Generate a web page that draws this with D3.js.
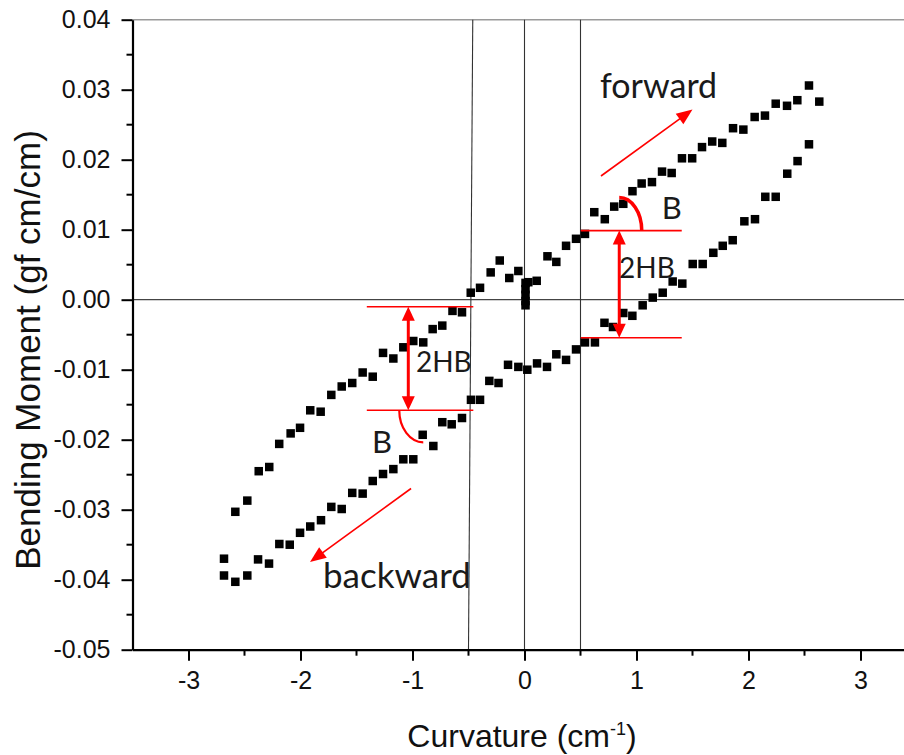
<!DOCTYPE html>
<html>
<head>
<meta charset="utf-8">
<script src="https://cdn.jsdelivr.net/npm/d3@7"></script>
<style>
  html, body { margin: 0; padding: 0; background: #fff; }
  svg { display: block; }
</style>
</head>
<body>
<svg id="chart" width="904" height="755"></svg>
<script>
// Hysteresis loop: bending moment vs curvature
// Upper branch of the loop (curvature, moment)
const upperCurv = [-2.582, -2.475, -2.373, -2.279, -2.190, -2.088, -2.004, -1.913, -1.820, -1.725,
  -1.632, -1.538, -1.445, -1.355, -1.263, -1.171, -1.082, -0.993, -0.904, -0.820,
  -0.734, -0.643, -0.558, -0.480, -0.397, -0.302, -0.221, -0.136, -0.055,
  0.009, 0.009, 0.009, 0.009, 0.009, 0.034, 0.109,
  0.205, 0.284, 0.371, 0.460, 0.540, 0.623, 0.717, 0.801, 0.882, 0.964,
  1.046, 1.138, 1.228, 1.314, 1.406, 1.497, 1.585, 1.676, 1.766, 1.862,
  1.954, 2.055, 2.147, 2.243, 2.344, 2.436, 2.540, 2.632];
const upperMoment = [-0.0303, -0.0287, -0.0245, -0.0239, -0.0206, -0.0191, -0.0183, -0.0158, -0.0160, -0.0136,
  -0.0124, -0.0119, -0.0104, -0.0110, -0.0076, -0.0084, -0.0068, -0.0059, -0.0061, -0.0042,
  -0.0037, -0.0016, -0.0018, 0.0010, 0.0017, 0.0039, 0.0056, 0.0031, 0.0041,
  0.0024, 0.0015, 0.0007, -0.0002, -0.0008, 0.0025, 0.0027,
  0.0062, 0.0054, 0.0077, 0.0087, 0.0094, 0.0125, 0.0115, 0.0133, 0.0137, 0.0155,
  0.0166, 0.0168, 0.0183, 0.0181, 0.0202, 0.0202, 0.0218, 0.0226, 0.0224, 0.0245,
  0.0243, 0.0261, 0.0263, 0.0280, 0.0277, 0.0285, 0.0306, 0.0283];

// Lower branch of the loop
const lowerCurv = [-2.683, -2.683, -2.582, -2.475, -2.379, -2.281, -2.189, -2.096, -2.004, -1.913,
  -1.817, -1.725, -1.632, -1.538, -1.445, -1.355, -1.263, -1.171, -1.082, -0.993,
  -0.909, -0.814, -0.734, -0.650, -0.558, -0.478, -0.397, -0.314, -0.232, -0.147,
  -0.055, 0.025, 0.112, 0.201, 0.284, 0.371, 0.460, 0.540, 0.629, 0.714,
  0.790, 0.882, 0.963, 1.055, 1.145, 1.234, 1.323, 1.409, 1.502, 1.591,
  1.686, 1.770, 1.859, 1.963, 2.058, 2.150, 2.243, 2.346, 2.438, 2.540];
const lowerMoment = [-0.0370, -0.0394, -0.0403, -0.0394, -0.0371, -0.0377, -0.0349, -0.0350, -0.0333, -0.0324,
  -0.0315, -0.0296, -0.0299, -0.0276, -0.0277, -0.0259, -0.0249, -0.0242, -0.0228, -0.0228,
  -0.0193, -0.0209, -0.0175, -0.0178, -0.0169, -0.0143, -0.0143, -0.0116, -0.0119, -0.0093,
  -0.0096, -0.0100, -0.0091, -0.0096, -0.0078, -0.0086, -0.0071, -0.0061, -0.0061, -0.0033,
  -0.0039, -0.0019, -0.0023, -0.0008, 0.0003, 0.0010, 0.0026, 0.0023, 0.0051, 0.0051,
  0.0067, 0.0077, 0.0085, 0.0112, 0.0115, 0.0147, 0.0147, 0.0180, 0.0198, 0.0222];

// Axis ticks
const xMajorTicks = [-3, -2, -1, 0, 1, 2, 3];
const xMinorTicks = [-2.5, -1.5, -0.5, 0.5, 1.5, 2.5];
const yMajorTicks = [-0.05, -0.04, -0.03, -0.02, -0.01, 0.00, 0.01, 0.02, 0.03, 0.04];
const yMinorTicks = [-0.045, -0.035, -0.025, -0.015, -0.005, 0.005, 0.015, 0.025, 0.035];

// Reference lines (curvature values)
const refCurvatures = [-0.5, 0, 0.5];

// Hysteresis annotation levels (2HB) at each side
const hbRight = { x: 0.846, top: 0.00987, bottom: -0.00543, from: 0.502, to: 1.404 };
const hbLeft  = { x: -1.0375, top: -0.0010, bottom: -0.0158, from: -1.408, to: -0.457 };

const svg = d3.select("#chart");
const tickFont = "'Liberation Sans', Arial, sans-serif";
const noteFont = "Lato, 'Open Sans', sans-serif";

const x = d3.scaleLinear().domain([-3.5, 3.5]).range([132.5, 916.5]);
const y = d3.scaleLinear().domain([-0.05, 0.04]).range([649.7, 19.7]);

// plain hyphen-minus for negative tick labels
const hyphen = f => v => f(v).replace("\u2212", "-");

// Frame top line
svg.append("line")
  .attr("x1", x(-3.5)).attr("x2", 904)
  .attr("y1", y(0.04)).attr("y2", y(0.04))
  .attr("stroke", "#9a9a9a").attr("stroke-width", 1.5);

// Zero moment line
svg.append("line")
  .attr("x1", x(-3.5)).attr("x2", 904)
  .attr("y1", y(0)).attr("y2", y(0))
  .attr("stroke", "#444").attr("stroke-width", 1.2);

// Vertical reference lines
refCurvatures.forEach(c => {
  const topC = c === -0.5 ? -0.462 : c;
  svg.append("line")
    .attr("x1", x(topC)).attr("x2", x(c))
    .attr("y1", y(0.04)).attr("y2", y(-0.05))
    .attr("stroke", "#333").attr("stroke-width", 1.1);
});

// Axes
const xAxis = d3.axisBottom(x).tickValues(xMajorTicks).tickFormat(hyphen(d3.format("d")))
  .tickSize(11).tickSizeOuter(0).tickPadding(11);
const gx = svg.append("g").attr("transform", `translate(0,${y(-0.05)})`).call(xAxis);
gx.selectAll(".tick line").attr("stroke-width", 2);
gx.select(".domain").attr("stroke-width", 2.2);
gx.selectAll("text").attr("font-family", tickFont).attr("font-size", 25).attr("fill", "#111");
gx.selectAll(".minor").data(xMinorTicks).enter().append("line")
  .attr("x1", d => x(d)).attr("x2", d => x(d))
  .attr("y1", 0).attr("y2", 6)
  .attr("stroke", "#000").attr("stroke-width", 2);

const yAxis = d3.axisLeft(y).tickValues(yMajorTicks).tickFormat(hyphen(d3.format(".2f")))
  .tickSize(11).tickSizeOuter(0).tickPadding(11);
const gy = svg.append("g").attr("transform", `translate(${x(-3.5)},0)`).call(yAxis);
gy.selectAll(".tick line").attr("stroke-width", 2);
gy.select(".domain").attr("stroke-width", 2.2);
gy.selectAll("text").attr("font-family", tickFont).attr("font-size", 25).attr("fill", "#111");
gy.selectAll(".minor").data(yMinorTicks).enter().append("line")
  .attr("y1", d => y(d)).attr("y2", d => y(d))
  .attr("x1", 0).attr("x2", -6)
  .attr("stroke", "#000").attr("stroke-width", 2);

// Axis titles
svg.append("text")
  .attr("transform", `translate(40,${350}) rotate(-90)`)
  .attr("text-anchor", "middle")
  .attr("font-family", tickFont).attr("font-size", 35).attr("fill", "#111")
  .text("Bending Moment (gf cm/cm)");

const xt = svg.append("text")
  .attr("x", 522).attr("y", 746.5)
  .attr("text-anchor", "middle")
  .attr("font-family", tickFont).attr("font-size", 32).attr("fill", "#111");
xt.append("tspan").text("Curvature (cm");
xt.append("tspan").attr("font-size", 18).attr("dy", -12).text("-1");
xt.append("tspan").attr("dy", 12).text(")");

// Data points
const size = 8.5;
const pts = [];
upperCurv.forEach((c, i) => pts.push([c, upperMoment[i]]));
lowerCurv.forEach((c, i) => pts.push([c, lowerMoment[i]]));
svg.append("g").selectAll("rect").data(pts).enter().append("rect")
  .attr("x", d => x(d[0]) - size / 2)
  .attr("y", d => y(d[1]) - size / 2)
  .attr("width", size).attr("height", size)
  .attr("fill", "#000");

// Annotations
const red = "#ff0000";
const ann = svg.append("g");

function arrowHead(g, x1, y1, x2, y2, len, half) {
  const a = Math.atan2(y2 - y1, x2 - x1);
  const bx = x2 - len * Math.cos(a), by = y2 - len * Math.sin(a);
  const nx = -Math.sin(a) * half, ny = Math.cos(a) * half;
  g.append("path")
    .attr("d", `M${x2},${y2}L${bx + nx},${by + ny}L${bx - nx},${by - ny}Z`)
    .attr("fill", red);
}

function arrow(c1, m1, c2, m2, width, len, half) {
  const X1 = x(c1), Y1 = y(m1), X2 = x(c2), Y2 = y(m2);
  const a = Math.atan2(Y2 - Y1, X2 - X1);
  ann.append("line")
    .attr("x1", X1).attr("y1", Y1)
    .attr("x2", X2 - (len * 0.8) * Math.cos(a)).attr("y2", Y2 - (len * 0.8) * Math.sin(a))
    .attr("stroke", red).attr("stroke-width", width);
  arrowHead(ann, X1, Y1, X2, Y2, len, half);
}

function doubleArrow(h, width) {
  const X = x(h.x), Yt = y(h.top), Yb = y(h.bottom);
  const len = 14, half = 6.5;
  ann.append("line")
    .attr("x1", X).attr("x2", X)
    .attr("y1", Yt + len * 0.8).attr("y2", Yb - len * 0.8)
    .attr("stroke", red).attr("stroke-width", width);
  arrowHead(ann, X, Yb, X, Yt, len, half);
  arrowHead(ann, X, Yt, X, Yb, len, half);
  [h.top, h.bottom].forEach(v => {
    ann.append("line")
      .attr("x1", x(h.from)).attr("x2", x(h.to))
      .attr("y1", y(v)).attr("y2", y(v))
      .attr("stroke", red).attr("stroke-width", 1.6);
  });
}

doubleArrow(hbRight, 3);
doubleArrow(hbLeft, 3);

// Forward / backward direction arrows
arrow(0.683, 0.01767, 1.500, 0.02717, 1.6, 16, 6.5);
arrow(-1.013, -0.02697, -1.915, -0.03747, 1.6, 16, 6.5);

// Angle arcs marking B
{
  const cx = x(hbRight.x), cy = y(hbRight.top);
  ann.append("path")
    .attr("d", `M${cx},${cy - 33} A22.5,33 0 0 1 ${cx + 22.5},${cy}`)
    .attr("fill", "none").attr("stroke", red).attr("stroke-width", 3.5);
}
{
  const cx = x(-0.904), cy = y(hbLeft.bottom);
  ann.append("path")
    .attr("d", `M${cx - 24},${cy} A24,32 0 0 0 ${cx},${cy + 32}`)
    .attr("fill", "none").attr("stroke", red).attr("stroke-width", 2.2);
}

// Annotation labels
function note(c, m, txt, fs) {
  ann.append("text")
    .attr("x", x(c)).attr("y", y(m))
    .attr("font-family", noteFont).attr("font-size", fs).attr("fill", "#1a1a1a")
    .text(txt);
}
note(0.674, 0.02881, "forward", 34);
note(-1.799, -0.04123, "backward", 35);
note(1.225, 0.01153, "B", 31);
note(-1.362, -0.02186, "B", 31);
note(0.844, 0.00306, "2HB", 28);
note(-0.969, -0.01029, "2HB", 28);
</script>
</body>
</html>
